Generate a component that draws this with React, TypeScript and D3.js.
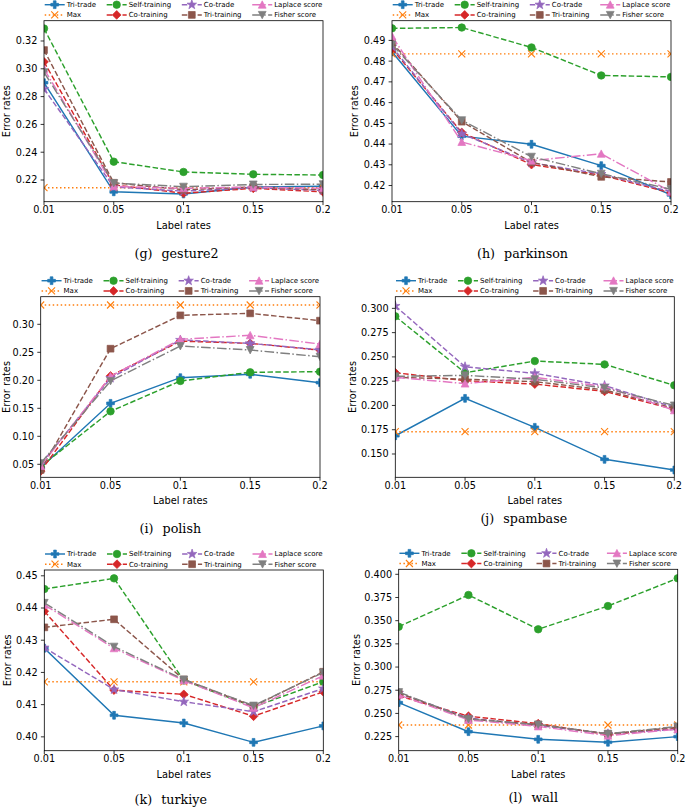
import { FC, useRef, useEffect } from 'react'
import * as d3 from 'd3'

const labelRates = ['0.01', '0.05', '0.1', '0.15', '0.2']
const methods = ['Tri-trade', 'Max', 'Self-training', 'Co-training', 'Co-trade', 'Tri-training', 'Laplace score', 'Fisher score']

// rows follow the methods order
const gesture2Rates = [
  [0.290, 0.2115, 0.2100, 0.2150, 0.2155],
  [0.2145, 0.2145, 0.2145, 0.2145, 0.2145],
  [0.329, 0.2332, 0.2258, 0.2241, 0.2236],
  [0.305, 0.2165, 0.2105, 0.2140, 0.2115],
  [0.2855, 0.2150, 0.2120, 0.2145, 0.2125],
  [0.3135, 0.2180, 0.2130, 0.2150, 0.2130],
  [0.300, 0.2155, 0.2140, 0.2150, 0.2140],
  [0.2975, 0.2178, 0.2152, 0.2168, 0.2170],
]
const parkinsonRates = [
  [0.4845, 0.4438, 0.4399, 0.4296, 0.4155],
  [0.4835, 0.4835, 0.4835, 0.4835, 0.4835],
  [0.4958, 0.4962, 0.4866, 0.4731, 0.4724],
  [0.4860, 0.4456, 0.4301, 0.4250, 0.4165],
  [0.4870, 0.4450, 0.4310, 0.4255, 0.4170],
  [0.4890, 0.4508, 0.4312, 0.4242, 0.4217],
  [0.4920, 0.4410, 0.4320, 0.4353, 0.4170],
  [0.4880, 0.4515, 0.4339, 0.4257, 0.4182],
]
const polishRates = [
  [0.044, 0.1589, 0.2047, 0.2107, 0.1958],
  [0.3345, 0.3345, 0.3345, 0.3345, 0.3345],
  [0.046, 0.1446, 0.1988, 0.2143, 0.2154],
  [0.038, 0.2077, 0.2700, 0.2660, 0.2540],
  [0.050, 0.2040, 0.2720, 0.2660, 0.2545],
  [0.040, 0.2564, 0.3160, 0.3196, 0.3065],
  [0.047, 0.2070, 0.2732, 0.2804, 0.2648],
  [0.052, 0.1988, 0.2612, 0.2541, 0.2421],
]
const spambaseRates = [
  [0.1688, 0.2073, 0.1775, 0.1445, 0.1335],
  [0.1730, 0.1730, 0.1730, 0.1730, 0.1730],
  [0.2918, 0.2337, 0.2457, 0.2423, 0.2207],
  [0.2337, 0.2255, 0.2220, 0.2145, 0.1960],
  [0.3024, 0.2399, 0.2331, 0.2205, 0.1980],
  [0.2290, 0.2270, 0.2245, 0.2160, 0.1970],
  [0.2290, 0.2225, 0.2290, 0.2195, 0.1950],
  [0.2300, 0.2310, 0.2270, 0.2180, 0.2000],
]
const turkiyeRates = [
  [0.4275, 0.4067, 0.4043, 0.3983, 0.4034],
  [0.4171, 0.4171, 0.4171, 0.4171, 0.4171],
  [0.4459, 0.4492, 0.4175, 0.4093, 0.4171],
  [0.4390, 0.4145, 0.4132, 0.4064, 0.4140],
  [0.4277, 0.4147, 0.4109, 0.4078, 0.4150],
  [0.4340, 0.4365, 0.4178, 0.4095, 0.4202],
  [0.4410, 0.4275, 0.4175, 0.4090, 0.4190],
  [0.4416, 0.4280, 0.4178, 0.4097, 0.4200],
]
const wallRates = [
  [0.2616, 0.2303, 0.2221, 0.2189, 0.2250],
  [0.2375, 0.2375, 0.2375, 0.2375, 0.2375],
  [0.3435, 0.3777, 0.3407, 0.3658, 0.3957],
  [0.2690, 0.2470, 0.2390, 0.2270, 0.2340],
  [0.2720, 0.2450, 0.2370, 0.2280, 0.2330],
  [0.2720, 0.2440, 0.2380, 0.2280, 0.2350],
  [0.2700, 0.2430, 0.2360, 0.2260, 0.2330],
  [0.2730, 0.2440, 0.2380, 0.2280, 0.2360],
]

const gesture2Ticks = [0.22, 0.24, 0.26, 0.28, 0.30, 0.32]
const parkinsonTicks = [0.42, 0.43, 0.44, 0.45, 0.46, 0.47, 0.48, 0.49]
const polishTicks = [0.05, 0.10, 0.15, 0.20, 0.25, 0.30]
const spambaseTicks = [0.150, 0.175, 0.200, 0.225, 0.250, 0.275, 0.300]
const turkiyeTicks = [0.40, 0.41, 0.42, 0.43, 0.44, 0.45]
const wallTicks = [0.225, 0.250, 0.275, 0.300, 0.325, 0.350, 0.375, 0.400]

const methodColors = ['#1f77b4', '#ff7f0e', '#2ca02c', '#d62728', '#9467bd', '#8c564b', '#e377c2', '#7f7f7f']
const methodDashes = ['none', '1.5,2.5', '5.5,2.4', '5.5,2.4', '5.5,2.4', '5.5,2.4', '9.6,2.4,1.5,2.4', '9.6,2.4,1.5,2.4']
const methodMarkers = ['P', 'x', 'o', 'D', '*', 's', '^', 'v']

interface PanelSpec {
  tag: string
  name: string
  rates: number[][]
  ticks: number[]
  decimals: number
  yDomain: [number, number]
  box: { left: number; right: number; top: number; bottom: number }
  captionDx: number
  captionY: number
  clip: [number, number]
}

const panels: PanelSpec[] = [
  { tag: '(g)', name: 'gesture2', rates: gesture2Rates, ticks: gesture2Ticks, decimals: 2, yDomain: [0.2044, 0.3346],
    box: { left: 44, right: 323, top: 20.7, bottom: 201.7 }, captionDx: -7, captionY: 253.3, clip: [0, 331] },
  { tag: '(h)', name: 'parkinson', rates: parkinsonRates, ticks: parkinsonTicks, decimals: 2, yDomain: [0.4122, 0.4995],
    box: { left: 392, right: 671, top: 20.7, bottom: 201.7 }, captionDx: -9, captionY: 253.3, clip: [342, 685] },
  { tag: '(i)', name: 'polish', rates: polishRates, ticks: polishTicks, decimals: 2, yDomain: [0.0268, 0.3493],
    box: { left: 40.7, right: 320, top: 296.7, bottom: 477.3 }, captionDx: -10, captionY: 528.3, clip: [0, 331] },
  { tag: '(j)', name: 'spambase', rates: spambaseRates, ticks: spambaseTicks, decimals: 3, yDomain: [0.126, 0.312],
    box: { left: 395.3, right: 674.3, top: 296.7, bottom: 477.3 }, captionDx: -11, captionY: 518.3, clip: [342, 685] },
  { tag: '(k)', name: 'turkiye', rates: turkiyeRates, ticks: turkiyeTicks, decimals: 2, yDomain: [0.3957, 0.4518],
    box: { left: 44.3, right: 323.3, top: 570, bottom: 750.7 }, captionDx: -13, captionY: 800, clip: [0, 331] },
  { tag: '(l)', name: 'wall', rates: wallRates, ticks: wallTicks, decimals: 3, yDomain: [0.2098, 0.4054],
    box: { left: 398.7, right: 677.7, top: 569.3, bottom: 750.7 }, captionDx: -5, captionY: 798, clip: [342, 685] },
]

function markerPath(kind: string): string {
  switch (kind) {
    case 'o': return d3.symbol(d3.symbolCircle, Math.PI * 3.75 * 3.75)() || ''
    case 's': return 'M-3.4,-3.4H3.4V3.4H-3.4Z'
    case 'D': return 'M0,-4.4L4.4,0L0,4.4L-4.4,0Z'
    case '^': return 'M0,-3.9L3.9,3.5L-3.9,3.5Z'
    case 'v': return 'M0,3.9L3.9,-3.5L-3.9,-3.5Z'
    case 'x': return 'M-3.5,-3.5L3.5,3.5M-3.5,3.5L3.5,-3.5'
    case 'P': {
      const a = 1.35, b = 3.9
      return `M${-a},${-b}H${a}V${-a}H${b}V${a}H${a}V${b}H${-a}V${a}H${-b}V${-a}H${-a}Z`
    }
    case '*': {
      const pts: string[] = []
      for (let k = 0; k < 10; k++) {
        const r = k % 2 === 0 ? 5 : 1.95
        const ang = -Math.PI / 2 + (k * Math.PI) / 5
        pts.push(`${(r * Math.cos(ang)).toFixed(2)},${(r * Math.sin(ang)).toFixed(2)}`)
      }
      return 'M' + pts.join('L') + 'Z'
    }
  }
  return ''
}

type Sel = d3.Selection<any, unknown, null, undefined>

function drawMarker(g: Sel, i: number, cx: number, cy: number) {
  const kind = methodMarkers[i]
  const color = methodColors[i]
  g.append('path')
    .attr('d', markerPath(kind))
    .attr('transform', `translate(${cx},${cy})`)
    .attr('fill', kind === 'x' ? 'none' : color)
    .attr('stroke', color)
    .attr('stroke-width', kind === 'x' ? 1.1 : 0.7)
}

function drawPanel(svg: Sel, defs: Sel, p: PanelSpec, pi: number) {
  const { left, right, top, bottom } = p.box
  const x = d3.scalePoint<string>().domain(labelRates).range([left, right])
  const y = d3.scaleLinear().domain(p.yDomain).range([bottom, top])

  defs.append('clipPath').attr('id', `panel-${pi}`)
    .append('rect').attr('x', p.clip[0]).attr('y', 0).attr('width', p.clip[1] - p.clip[0]).attr('height', 809)
  defs.append('clipPath').attr('id', `plot-${pi}`)
    .append('rect').attr('x', left).attr('y', top).attr('width', right - left).attr('height', bottom - top)

  const root = svg.append('g').attr('clip-path', `url(#panel-${pi})`)
    .attr('font-family', '"DejaVu Sans", sans-serif')

  // series
  const plot = root.append('g').attr('clip-path', `url(#plot-${pi})`)
  const line = d3.line<number>()
    .x((_, j) => x(labelRates[j]) ?? 0)
    .y(d => y(d))
  p.rates.forEach((vals, i) => {
    const g = plot.append('g')
    g.append('path')
      .attr('d', line(vals))
      .attr('fill', 'none')
      .attr('stroke', methodColors[i])
      .attr('stroke-width', 1.45)
      .attr('stroke-dasharray', methodDashes[i])
    vals.forEach((v, j) => drawMarker(g, i, x(labelRates[j]) ?? 0, y(v)))
  })

  // spines
  root.append('rect')
    .attr('x', left).attr('y', top)
    .attr('width', right - left).attr('height', bottom - top)
    .attr('fill', 'none').attr('stroke', '#000').attr('stroke-width', 0.8)

  // y ticks
  const fmt = d3.format(`.${p.decimals}f`)
  const yt = root.append('g')
  p.ticks.forEach(t => {
    yt.append('line').attr('x1', left - 3.4).attr('x2', left).attr('y1', y(t)).attr('y2', y(t))
      .attr('stroke', '#000').attr('stroke-width', 0.8)
    yt.append('text').attr('x', left - 6.6).attr('y', y(t)).attr('dy', '0.35em')
      .attr('text-anchor', 'end').attr('font-size', '9.7px').attr('fill', '#000')
      .text(fmt(t))
  })

  // x ticks
  const xt = root.append('g')
  labelRates.forEach(r => {
    const px = x(r) ?? 0
    xt.append('line').attr('x1', px).attr('x2', px).attr('y1', bottom).attr('y2', bottom + 3.4)
      .attr('stroke', '#000').attr('stroke-width', 0.8)
    xt.append('text').attr('x', px).attr('y', bottom + 4.8).attr('dy', '0.71em')
      .attr('text-anchor', 'middle').attr('font-size', '9.7px').attr('fill', '#000')
      .text(r)
  })

  root.append('text')
    .attr('x', (left + right) / 2).attr('y', bottom + 23.5).attr('dy', '0.35em')
    .attr('text-anchor', 'middle').attr('font-size', '9.8px')
    .text('Label rates')

  const ylabOffset = p.decimals === 3 ? 42.5 : 37
  const ylabX = Math.max(left - ylabOffset, p.clip[0] + 6.5)
  root.append('text')
    .attr('transform', `translate(${ylabX},${(top + bottom) / 2}) rotate(-90)`)
    .attr('dy', '0.35em')
    .attr('text-anchor', 'middle').attr('font-size', '9.8px')
    .text('Error rates')

  // legend, 4 columns filled column-first
  const legend = root.append('g').attr('font-size', '7px')
  const measure = (s: string) => {
    const t = legend.append('text').text(s)
    const w = (t.node() as SVGTextElement).getComputedTextLength()
    t.remove()
    return w
  }
  const colSpacing = 10.7
  const colStarts: number[] = []
  let cx = 0
  for (let c = 0; c < 4; c++) {
    colStarts.push(cx)
    const w = Math.max(measure(methods[2 * c]), measure(methods[2 * c + 1]))
    cx += 22 + w + colSpacing
  }
  const total = cx - colSpacing
  const lx0 = (left + right) / 2 - total / 2
  methods.forEach((m, i) => {
    const c = Math.floor(i / 2)
    const ry = top - (i % 2 === 0 ? 16 : 5.8)
    const hx = lx0 + colStarts[c]
    legend.append('line')
      .attr('x1', hx).attr('x2', hx + 20).attr('y1', ry).attr('y2', ry)
      .attr('stroke', methodColors[i]).attr('stroke-width', 1.45)
      .attr('stroke-dasharray', methodDashes[i])
    drawMarker(legend, i, hx + 10, ry)
    legend.append('text')
      .attr('x', hx + 22).attr('y', ry).attr('dy', '0.35em')
      .attr('fill', '#000')
      .text(m)
  })

  // caption
  const cap = root.append('text')
    .attr('x', (left + right) / 2 + p.captionDx).attr('y', p.captionY).attr('dy', '0.35em')
    .attr('text-anchor', 'middle')
    .attr('font-family', '"DejaVu Serif", serif').attr('font-size', '12.7px')
  cap.append('tspan').text(p.tag)
  cap.append('tspan').attr('dx', 9).text(p.name)
}

const App: FC = () => {
  const svgRef = useRef<SVGSVGElement>(null)

  useEffect(() => {
    if (!svgRef.current) return
    const svg = d3.select(svgRef.current) as unknown as Sel
    svg.selectAll('*').remove()
    const defs = svg.append('defs')
    panels.forEach((p, pi) => drawPanel(svg, defs, p, pi))
  }, [])

  return (
    <svg
      ref={svgRef}
      width={685}
      height={809}
      style={{ position: 'absolute', left: 0, top: 0, background: '#fff' }}
    />
  )
}

export default App
